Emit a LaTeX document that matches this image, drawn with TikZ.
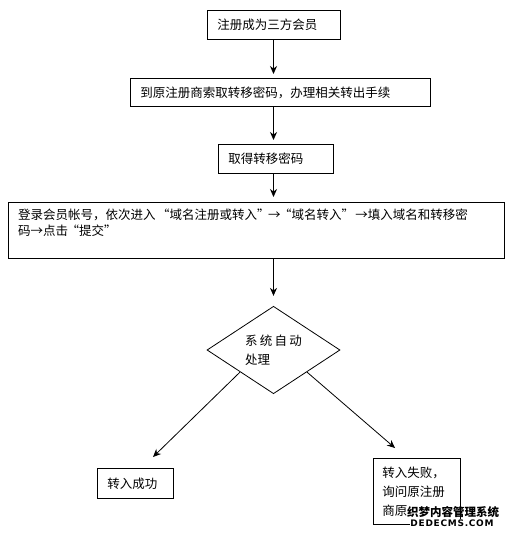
\documentclass[tikz,border=0pt]{standalone}
\usepackage{fontspec}
\newfontfamily\cjk{Noto Sans CJK SC}
\newfontfamily\wmfont[LetterSpace=8]{DejaVu Sans}
\usetikzlibrary{arrows.meta,shapes.geometric}
\newcommand\myqL{\makebox[11pt][r]{“}}
\newcommand\myqR{\makebox[11pt][l]{”}}
\newcommand\myar{\makebox[12.5pt]{→}}
\begin{document}
\begin{tikzpicture}[x=1pt,y=-1pt,
  font=\cjk\fontsize{12.5}{16}\selectfont,
  box/.style={draw, line width=0.8pt, anchor=north west, inner ysep=0pt, inner xsep=10pt, align=left},
  arr/.style={-{Stealth[length=8pt,width=7pt]}, line width=0.8pt}]
\useasboundingbox[fill=white] (0,0) rectangle (513,537);

\node[box, text width=113pt, minimum height=29pt] (b1) at (207,10) {注册成为三方会员};
\node[box, text width=280pt, minimum height=28pt] (b2) at (130,78) {到原注册商索取转移密码，办理相关转出手续};
\node[box, text width=95pt, minimum height=29pt] (b3) at (218,144) {取得转移密码};
\node[draw, line width=0.8pt, anchor=north west, minimum width=496pt, minimum height=56pt, inner sep=0pt] (b4) at (8,202) {};
\node[anchor=north west, inner sep=0pt, align=left, font=\cjk\fontsize{12.5}{16}\selectfont] (t4) at (18,209)
  {登录会员帐号，依次进入\ \myqL 域名注册或转入\myqR\myar\myqL 域名转入\myqR\ \myar 填入域名和转移密\\码\myar 点击\myqL 提交\myqR};

\node[diamond, draw, line width=0.8pt, minimum width=133pt, minimum height=86pt, inner sep=0pt,
  align=left, font=\cjk\fontsize{12.5}{19}\selectfont] (d) at (273.5,350)
  {系\hspace{2.3pt}统\hspace{2.3pt}自\hspace{2.3pt}动\\处理};

\node[box, text width=56pt, minimum height=30pt] (b5) at (97,468) {转入成功};
\node[box, inner xsep=9pt, text width=69pt, minimum height=66pt, font=\cjk\fontsize{12.5}{19}\selectfont] (b6) at (373,458)
  {转入失败，\\询问原注册\\商原\phantom{因}};

\coordinate (e1) at (153,457);
\coordinate (e2) at (395,448);

\draw[arr, shorten >=4pt] (b1.south -| d.north) -- (b2.north -| d.north);
\draw[arr, shorten >=4pt] (b2.south -| d.north) -- (b3.north -| d.north);
\draw[arr, shorten >=5pt] (b3.south -| d.north) -- (b4.north -| d.north);
\draw[arr, shorten >=10pt] (b4.south -| d.north) -- (d.north);
\draw[arr] (d.south west) -- (e1);
\draw[arr] (d.south east) -- (e2);

% watermark
\node[inner sep=0.5pt, font=\cjk\bfseries\fontsize{11.5}{11.5}\selectfont] (wm1) at (453,512) {织梦内容管理系统};
\node[fill=white, inner sep=0.5pt, font=\wmfont\bfseries\fontsize{9}{9}\selectfont] (wm2) at (452,523) {DEDECMS.COM};
\end{tikzpicture}
\end{document}
